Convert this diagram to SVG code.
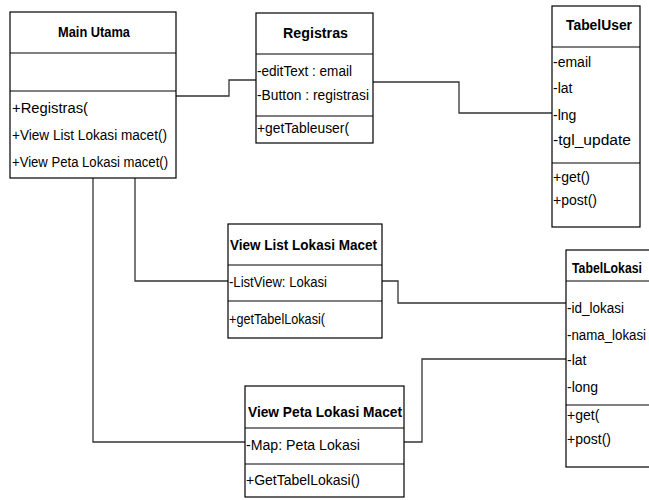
<svg xmlns="http://www.w3.org/2000/svg" width="649" height="500" viewBox="0 0 649 500">
<style>
.box{fill:#fff;stroke:#000;stroke-width:1.2}
.div{stroke:#000;stroke-width:1}
.t{font-family:"Liberation Sans",Arial,sans-serif;font-size:14px;fill:#000}
.h{font-family:"Liberation Sans",Arial,sans-serif;font-size:14px;font-weight:bold;fill:#000}
.c{fill:none;stroke:#333;stroke-width:1.3}
</style>
<rect width="649" height="500" fill="#fff"/>
<g id="connectors">
<polyline class="c" points="176,96 229,96 229,80 256,80"/>
<polyline class="c" points="373,82 459,82 459,113 552,113"/>
<polyline class="c" points="135,178 135,281 228,281"/>
<polyline class="c" points="93,178 93,442 245,442"/>
<polyline class="c" points="382,281 398,281 398,303 566,303"/>
<polyline class="c" points="404,442 422,442 422,359 566,359"/>
</g>
<g id="main-utama">
<rect class="box" x="10" y="12" width="166" height="166"/>
<line class="div" x1="10" y1="53" x2="176" y2="53"/>
<line class="div" x1="10" y1="91" x2="176" y2="91"/>
<text class="h" x="58" y="37" textLength="72" lengthAdjust="spacingAndGlyphs">Main Utama</text>
<text class="t" x="12" y="113" textLength="76" lengthAdjust="spacingAndGlyphs">+Registras(</text>
<text class="t" x="12" y="140" textLength="155" lengthAdjust="spacingAndGlyphs">+View List Lokasi macet()</text>
<text class="t" x="12" y="167" textLength="156" lengthAdjust="spacingAndGlyphs">+View Peta Lokasi macet()</text>
</g>
<g id="registras">
<rect class="box" x="256" y="13" width="117" height="130"/>
<line class="div" x1="256" y1="54" x2="373" y2="54"/>
<line class="div" x1="256" y1="116" x2="373" y2="116"/>
<text class="h" x="283" y="38" textLength="65" lengthAdjust="spacingAndGlyphs">Registras</text>
<text class="t" x="257" y="76" textLength="95" lengthAdjust="spacingAndGlyphs">-editText : email</text>
<text class="t" x="257" y="100" textLength="112" lengthAdjust="spacingAndGlyphs">-Button : registrasi</text>
<text class="t" x="257" y="133" textLength="92" lengthAdjust="spacingAndGlyphs">+getTableuser(</text>
</g>
<g id="tabel-user">
<rect class="box" x="552" y="6" width="88" height="221"/>
<line class="div" x1="552" y1="47" x2="640" y2="47"/>
<line class="div" x1="552" y1="163" x2="640" y2="163"/>
<text class="h" x="566" y="30" textLength="66" lengthAdjust="spacingAndGlyphs">TabelUser</text>
<text class="t" x="553" y="67">-email</text>
<text class="t" x="553" y="93">-lat</text>
<text class="t" x="553" y="120">-lng</text>
<text class="t" x="553" y="145" textLength="78" lengthAdjust="spacingAndGlyphs">-tgl_update</text>
<text class="t" x="553" y="182">+get()</text>
<text class="t" x="553" y="205">+post()</text>
</g>
<g id="view-list-lokasi-macet">
<rect class="box" x="228" y="224" width="154" height="114"/>
<line class="div" x1="228" y1="265" x2="382" y2="265"/>
<line class="div" x1="228" y1="301" x2="382" y2="301"/>
<text class="h" x="230" y="250" textLength="147" lengthAdjust="spacingAndGlyphs">View List Lokasi Macet</text>
<text class="t" x="229" y="287" textLength="98" lengthAdjust="spacingAndGlyphs">-ListView: Lokasi</text>
<text class="t" x="229" y="324" textLength="96" lengthAdjust="spacingAndGlyphs">+getTabelLokasi(</text>
</g>
<g id="tabel-lokasi">
<rect class="box" x="566" y="250" width="100" height="217"/>
<line class="div" x1="566" y1="281" x2="666" y2="281"/>
<line class="div" x1="566" y1="405" x2="666" y2="405"/>
<text class="h" x="572" y="273" textLength="70" lengthAdjust="spacingAndGlyphs">TabelLokasi</text>
<text class="t" x="567" y="313" textLength="57" lengthAdjust="spacingAndGlyphs">-id_lokasi</text>
<text class="t" x="567" y="340" textLength="79" lengthAdjust="spacingAndGlyphs">-nama_lokasi</text>
<text class="t" x="567" y="365">-lat</text>
<text class="t" x="567" y="392">-long</text>
<text class="t" x="567" y="420">+get(</text>
<text class="t" x="567" y="444">+post()</text>
</g>
<g id="view-peta-lokasi-macet">
<rect class="box" x="245" y="386" width="159" height="111"/>
<line class="div" x1="245" y1="428" x2="404" y2="428"/>
<line class="div" x1="245" y1="464" x2="404" y2="464"/>
<text class="h" x="248" y="417" textLength="154" lengthAdjust="spacingAndGlyphs">View Peta Lokasi Macet</text>
<text class="t" x="246" y="450" textLength="114" lengthAdjust="spacingAndGlyphs">-Map: Peta Lokasi</text>
<text class="t" x="246" y="485" textLength="114" lengthAdjust="spacingAndGlyphs">+GetTabelLokasi()</text>
</g>
</svg>
